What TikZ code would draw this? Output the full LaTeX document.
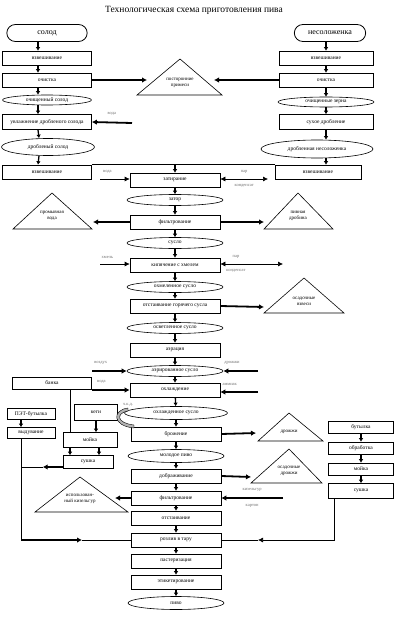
\documentclass[tikz,border=0pt]{standalone}
\usepackage{fontspec}
\setmainfont{Liberation Serif}
\usetikzlibrary{positioning,arrows.meta,calc,shapes.geometric,shapes.misc}
\tikzset{
    x=1pt,
    y=-1pt,
    every node/.style={font=\fontsize{5.5}{6.5}\selectfont},
    process/.style = {
        draw,
        shape=rectangle,
        minimum height=14pt,
        minimum width=90pt,
        inner sep=1pt,
        line width=0.6pt
    },
    product/.style = {
        draw,
        shape=ellipse,
        minimum height=11pt,
        minimum width=96pt,
        inner sep=0pt,
        line width=0.6pt
    },
    source/.style = {
        draw,
        shape=rounded rectangle,
        minimum height=17pt,
        line width=0.8pt,
        font=\fontsize{8}{9}\selectfont
    },
    waste/.style = {
        align=center,
        font=\fontsize{5}{6}\selectfont
    },
    note/.style = {
        text=black!55,
        font=\fontsize{4.5}{5}\selectfont
    },
    flow/.style = {line width=1.3pt, -{Latex[length=3.5pt,width=4.5pt]}},
    fat/.style = {line width=1.8pt, -{Latex[length=5pt,width=5.5pt]}},
    feed/.style = {line width=0.6pt, -{Latex[length=5pt,width=5pt]}},
    steam/.style = {line width=0.6pt, {Latex[length=5pt,width=5pt]}-{Latex[length=5pt,width=5pt]}},
}
\begin{document}
\begin{tikzpicture}
            \useasboundingbox (0,0) rectangle (402,623);
            \node[font=\fontsize{9.5}{11}\selectfont] (title) at (194,10) {Технологическая схема приготовления пива};

            % malt line
            \node[source, minimum width=87pt] (solod) at (47,33) {солод};
            \node[process, minimum width=89pt] (weighA) at (47,58) {взвешивание};
            \node[process, minimum width=89pt] (cleanA) at (47,80) {очистка};
            \node[product, minimum width=89pt, minimum height=10pt] (cleanmalt) at (47,100) {очищенный солод};
            \node[process, minimum width=89pt, minimum height=15pt] (wetmalt) at (47,122) {увлажнение дробленого солода};
            \node[product, minimum width=93pt, minimum height=17pt] (crushmalt) at (48,147) {дробленый солод};
            \node[process, minimum width=89pt] (weighB) at (47,172) {взвешивание};

            % unmalted grain line
            \node[source, minimum width=78pt] (unmalt) at (330,33) {несоложенка};
            \node[process, minimum width=94pt] (weighC) at (326,58) {взвешивание};
            \node[process, minimum width=94pt] (cleanC) at (326,80) {очистка};
            \node[product, minimum width=96pt, minimum height=10pt] (cleangrain) at (326,102) {очищенные зерна};
            \node[process, minimum width=94pt, minimum height=15pt] (drygrind) at (326,122) {сухое дробление};
            \node[product, minimum width=112pt, minimum height=18pt] (crushgrain) at (317,149) {дробленная несоложенка};
            \node[process, minimum width=86pt] (weighD) at (318,172) {взвешивание};

            % main line
            \node[process] (mash) at (175,180) {затирание};
            \node[product] (mashout) at (175,200) {затор};
            \node[process] (filtA) at (175,222) {фильтрование};
            \node[product] (wort) at (175,243) {сусло};
            \node[process] (boil) at (175,265) {кипячение с хмелем};
            \node[product] (hopwort) at (175,287) {охмеленное сусло};
            \node[process] (settle) at (175,306) {отстаивание горячего сусла};
            \node[product] (clearwort) at (175,328) {осветленное сусло};
            \node[process] (aerate) at (175,350) {аэрация};
            \node[product] (aerwort) at (175,371) {аэрированное сусло};
            \node[process] (cool) at (175,390) {охлаждение};
            \node[product, minimum width=103pt, minimum height=13pt] (coolwort) at (176,413) {охлажденное сусло};
            \node[process] (ferment) at (176,434) {брожение};
            \node[product, minimum height=13pt] (youngbeer) at (176,456) {молодое пиво};
            \node[process] (postferm) at (176,476) {дображивание};
            \node[process] (filtB) at (176,498) {фильтрование};
            \node[process] (settleB) at (176,518) {отстаивание};
            \node[process] (bottling) at (176,540) {розлив в тару};
            \node[process] (pasteur) at (176,561) {пастеризация};
            \node[process] (labeling) at (176,582) {этикетирование};
            \node[product, minimum height=13pt] (beer) at (176,603) {пиво};

            % packaging
            \node[process, minimum width=79pt, minimum height=12pt] (can) at (52,383) {банка};
            \node[process, minimum width=43pt, minimum height=16pt] (kegs) at (96,412) {кеги};
            \node[process, minimum width=54pt, minimum height=15pt] (washA) at (90,440) {мойка};
            \node[process, minimum width=50pt, minimum height=13pt] (dryA) at (88,462) {сушка};
            \node[process, minimum width=48pt, minimum height=11pt] (pet) at (31,414) {ПЭТ-бутылка};
            \node[process, minimum width=48pt, minimum height=11pt] (blow) at (31,433) {выдувание};
            \node[process, minimum width=65pt, minimum height=12pt] (bottle) at (361,427) {бутылка};
            \node[process, minimum width=65pt, minimum height=12pt] (treat) at (361,448) {обработка};
            \node[process, minimum width=65pt, minimum height=12pt] (washB) at (361,469) {мойка};
            \node[process, minimum width=65pt, minimum height=15pt] (dryB) at (361,491) {сушка};

            % waste
            \draw[line width=0.6pt] (180,59) -- (222,95) -- (137,95) -- cycle;
            \node[waste] (impur) at (180,83) {посторонние\\примеси};
            \draw[line width=0.6pt] (52,193) -- (92,229) -- (13,229) -- cycle;
            \node[waste] (washwater) at (52,216) {промывная\\вода};
            \draw[line width=0.6pt] (298,193) -- (333,229) -- (264,229) -- cycle;
            \node[waste] (grains) at (298,216) {пивная\\дробина};
            \draw[line width=0.6pt] (304,278) -- (344,313) -- (264,313) -- cycle;
            \node[waste] (trub) at (304,301) {осадочные\\взвеси};
            \draw[line width=0.6pt] (289,413) -- (323,441) -- (258,441) -- cycle;
            \node[waste] (yeast) at (289,432) {дрожжи};
            \draw[line width=0.6pt] (289,449) -- (322,483) -- (251,483) -- cycle;
            \node[waste] (sediment) at (289,471) {осадочные\\дрожжи};
            \draw[line width=0.6pt] (80,477) -- (128,512) -- (35,512) -- cycle;
            \node[waste] (kieselout) at (80,499) {использован-\\ный кизельгур};

            % free ends
            \coordinate (impurL) at (147,80);
            \coordinate (impurR) at (214,80);
            \coordinate (waterA) at (132,123);
            \coordinate (waterB) at (100,179);
            \coordinate (steamA) at (268,179);
            \coordinate (washwaterIn) at (93,222);
            \coordinate (grainsIn) at (264,222);
            \coordinate (hops) at (100,264);
            \coordinate (steamB) at (283,264);
            \coordinate (trubIn) at (264,307);
            \coordinate (air) at (92,371);
            \coordinate (yeastAdd) at (258,371);
            \coordinate (waterC) at (92,390);
            \coordinate (ammonia) at (258,392);
            \coordinate (yeastIn) at (256,433);
            \coordinate (sedimentIn) at (251,477);
            \coordinate (kieselIn) at (115,498);
            \coordinate (kiesel) at (283,498);
            \coordinate (petline) at (21,467);
            \coordinate (petturn) at (21,540);
            \coordinate (petin) at (82,540);
            \coordinate (bottlein) at (258,540);

            % chains
            \foreach \a/\b in {solod/weighA, weighA/cleanA, cleanA/cleanmalt, cleanmalt/wetmalt, wetmalt/crushmalt, crushmalt/weighB}
                \draw[flow] ([xshift=-9]\a.south) -- ([xshift=-9]\b.north);
            \foreach \a/\b in {unmalt/weighC, weighC/cleanC, cleanC/cleangrain, cleangrain/drygrind, drygrind/crushgrain, crushgrain/weighD}
                \draw[flow] (\a.south -| weighC) -- (\b.north -| weighC);
            \foreach \a/\b in {mash/mashout, mashout/filtA, filtA/wort, wort/boil, boil/hopwort, hopwort/settle, settle/clearwort, clearwort/aerate, aerate/aerwort, aerwort/cool, cool/coolwort, coolwort/ferment, ferment/youngbeer, youngbeer/postferm, postferm/filtB, filtB/settleB, settleB/bottling, bottling/pasteur, pasteur/labeling, labeling/beer}
                \draw[flow] (\a) -- (\b);
            \foreach \a/\b in {bottle/treat, treat/washB, washB/dryB}
                \draw[flow] (\a) -- (\b);

            % side streams
            \path[draw, fat] (cleanA.east) -- (impurL);
            \path[draw, fat] (cleanC.west) -- (impurR);
            \path[draw, fat] (waterA) -- (wetmalt.east) node [note, midway, above=3pt] {вода};
            \path[draw, line width=0.6pt] (weighB.north east) -- (weighD.north west);
            \path[draw, flow] (mash.north |- weighB.north) -- (mash.north);
            \path[draw, feed] (waterB) -- (waterB -| mash.west) node [note, near start, above=2pt] {вода};
            \path[draw, steam] (mash.east |- steamA) -- (steamA) node [note, midway, above=2pt] {пар} node [note, midway, below=2pt] {конденсат};
            \path[draw, fat] (filtA.west) -- (washwaterIn);
            \path[draw, fat] (filtA.east) -- (grainsIn);
            \path[draw, feed] (hops) -- (hops -| boil.west) node [note, near start, above=2pt] {хмель};
            \path[draw, steam] (boil.east |- steamB) -- (steamB) node [note, near start, above=2pt] {пар} node [note, near start, below=2pt] {конденсат};
            \path[draw, fat] (settle.east) -- (trubIn);
            \path[draw, fat] (air) -- (air -| aerwort.west) node [note, near start, above=2pt] {воздух};
            \path[draw, fat] (yeastAdd) -- (yeastAdd -| aerwort.east) node [note, near end, above=2pt] {дрожжи};
            \path[draw, fat] (waterC) -- (waterC -| cool.west) node [note, near start, above=2pt] {вода};
            \path[draw, fat] (ammonia) -- (ammonia -| cool.east) node [note, near end, above=2pt] {аммиак};
            \path[draw, fat] (ferment.east) -- (yeastIn);
            \path[draw, fat] (postferm.east) -- (sedimentIn);
            \path[draw, fat] (filtB.west) -- (kieselIn);
            \path[draw, fat] (kiesel) -- (filtB.east) node [note, midway, above=2pt] {кизельгур} node [note, midway, below=2pt] {картон};

            % pure yeast culture
            \node[note] (pyc) at (128,405) {ч.к.д.};
            \path[draw, fill=black!30, line width=0.4pt] (128,411) .. controls (116,413) and (116,423) .. (134,425) -- (134,428) .. controls (112,426) and (112,410) .. (128,408) -- cycle;

            % packing
            \path[draw, line width=0.6pt] ([xshift=18]can.south) -- ([xshift=18]can.south |- washA.north);
            \path[draw, flow] (kegs.south) -- (kegs.south |- washA.north);
            \path[draw, flow] ([xshift=-20]washA.south) -- ([xshift=-20]washA.south |- dryA.north);
            \path[draw, flow] ([xshift=9]washA.south) -- ([xshift=9]washA.south |- dryA.north);
            \path[draw, flow] ([xshift=-10]pet.south) -- ([xshift=-10]blow.north);
            \path[draw, fat] ([yshift=-5]dryA.west) -- ([xshift=-20,yshift=-5]dryA.west);
            \path[draw, line width=0.6pt] ([xshift=-20,yshift=-5]dryA.west) -- (petline);
            \path[draw, line width=0.6pt] ([xshift=-10]blow.south) -- (petturn);
            \path[draw, fat] (petturn) -- (petin);
            \path[draw, line width=0.6pt] (petin) -- (bottling.west);
            \path[draw, feed] ([xshift=-27]dryB.south) |- (bottlein);
            \path[draw, line width=0.6pt] (bottlein) -- (bottling.east);

        \end{tikzpicture}
\end{document}
